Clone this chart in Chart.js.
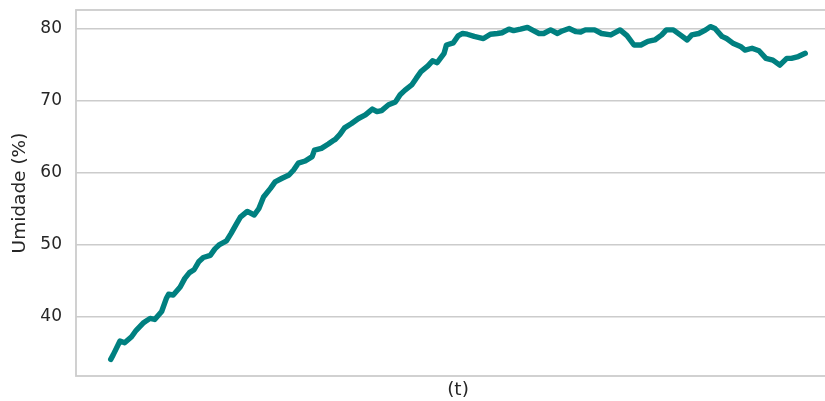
<!DOCTYPE html>
<html>
<head>
<meta charset="utf-8">
<script src="https://cdn.jsdelivr.net/npm/chart.js@4.4.1/dist/chart.umd.min.js"></script>
<style>
  html, body { margin: 0; padding: 0; background: #ffffff; overflow: hidden; }
  #wrap { width: 842px; height: 401px; }
</style>
</head>
<body>
<div id="wrap"><canvas id="c" width="842" height="401"></canvas></div>
<script>
// time index (t)
const timeSteps = [0,1,4,6,9,11,14,17,19,22,24,25,27,30,32,34,36,38,40,43,45,47,50,52,54,56,59,62,64,66,69,71,74,77,79,81,84,87,88,91,94,96,97,99,101,104,107,110,113,115,117,120,123,125,127,130,132,134,137,139,141,144,145,148,150,152,154,157,161,164,167,169,172,174,177,180,182,185,187,190,193,195,198,201,203,205,209,212,216,220,223,226,229,232,235,238,240,243,246,249,251,254,257,259,261,264,266,269,272,274,277,280,283,286,289,292,294,297,300];
// humidity (%)
const humidity = [34.06,34.65,36.6,36.36,37.2,38.1,39.1,39.75,39.6,40.7,42.5,43.1,43.0,44.1,45.3,46.1,46.5,47.6,48.2,48.5,49.4,50.0,50.5,51.55,52.7,53.8,54.6,54.1,55.0,56.6,57.8,58.7,59.2,59.65,60.35,61.3,61.6,62.2,63.1,63.35,63.95,64.4,64.6,65.3,66.2,66.8,67.5,68.0,68.8,68.45,68.6,69.4,69.8,70.8,71.4,72.15,73.1,74.0,74.8,75.5,75.25,76.55,77.7,78.0,78.96,79.3,79.2,78.9,78.6,79.2,79.3,79.4,79.9,79.7,79.9,80.15,79.8,79.3,79.3,79.8,79.3,79.65,80.0,79.55,79.5,79.8,79.8,79.3,79.1,79.8,79.0,77.7,77.7,78.2,78.4,79.1,79.8,79.8,79.1,78.4,79.1,79.3,79.8,80.25,80.0,78.9,78.6,77.9,77.5,77.0,77.25,76.9,75.85,75.6,74.9,75.85,75.85,76.1,76.55];
const yTicks = [40, 50, 60, 70, 80];
const xLabel = '(t)';
const yLabel = 'Umidade (%)';

const points = timeSteps.map((t, i) => ({ x: t, y: humidity[i] }));

const frame = {
  id: 'frame',
  afterDatasetsDraw(chart) {
    const a = chart.chartArea, ctx = chart.ctx;
    ctx.save();
    ctx.strokeStyle = '#cccccc';
    ctx.lineWidth = 1.8;
    ctx.strokeRect(a.left, a.top, a.right - a.left, a.bottom - a.top);
    ctx.restore();
  }
};

new Chart(document.getElementById('c'), {
  type: 'line',
  data: {
    datasets: [{
      data: points,
      borderColor: '#008080',
      borderWidth: 5.4,
      pointRadius: 0,
      tension: 0,
      borderCapStyle: 'round',
      borderJoinStyle: 'round',
      fill: false
    }]
  },
  options: {
    responsive: false,
    animation: false,
    devicePixelRatio: 1,
    layout: { padding: { top: 10, right: 2, bottom: 0, left: 0 } },
    plugins: { legend: { display: false }, tooltip: { enabled: false } },
    scales: {
      x: {
        type: 'linear',
        min: -15,
        max: 315,
        ticks: { display: false },
        grid: { display: false },
        border: { display: false },
        title: {
          display: true, text: xLabel, color: '#262626',
          font: { family: 'DejaVu Sans', size: 18.5 },
          padding: { top: 0, bottom: 0 }
        },
        afterFit(s) {
          s.height = 25;
          s.paddingLeft = 0; s.paddingRight = 0; s.paddingTop = 0; s.paddingBottom = 0;
        }
      },
      y: {
        min: 31.75,
        max: 82.56,
        afterBuildTicks(s) { s.ticks = yTicks.map(v => ({ value: v })); },
        ticks: {
          color: '#262626', padding: 14,
          font: { family: 'DejaVu Sans', size: 17 }
        },
        grid: { color: '#cccccc', lineWidth: 1.5, drawTicks: false },
        border: { display: false },
        title: {
          display: true, text: yLabel, color: '#262626',
          font: { family: 'DejaVu Sans', size: 18.5 },
          padding: { top: 9, bottom: 0 }
        },
        afterFit(s) {
          s.width = 76;
          s.paddingLeft = 0; s.paddingRight = 0; s.paddingTop = 0; s.paddingBottom = 0;
        }
      }
    }
  },
  plugins: [frame]
});
</script>
</body>
</html>
